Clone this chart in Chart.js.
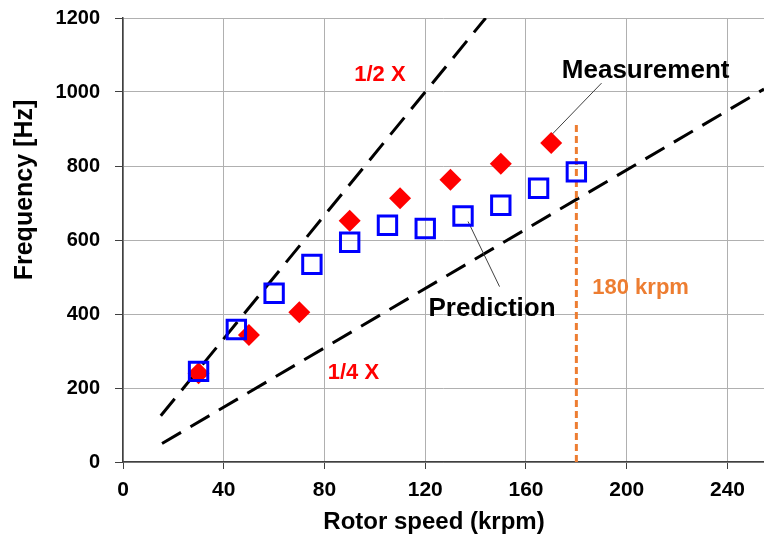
<!DOCTYPE html>
<html lang="en">
<head>
<meta charset="UTF-8">
<title>Frequency vs rotor speed</title>
<script src="https://cdn.jsdelivr.net/npm/chart.js"></script>
<style>
    body { margin: 0; background: #ffffff; }
</style>
</head>
<body>
<canvas id="myChart" width="764" height="542"></canvas>

<script>
    // valores
    const xTicks = [0, 40, 80, 120, 160, 200, 240];
    const yTicks = [0, 200, 400, 600, 800, 1000, 1200];

    const measSpeed = [30, 50, 70, 90, 110, 130, 150, 170];
    const measFreq = [240, 343, 405, 652, 713, 763, 806, 862];

    const predSpeed = [30, 45, 60, 75, 90, 105, 120, 135, 150, 165, 180];
    const predFreq = [245, 358, 456, 534, 594, 640, 631, 665, 694, 740, 784];

    const halfXSpeed = [15, 144];
    const halfXFreq = [125, 1200];
    const quarterXSpeed = [15.5, 254.5];
    const quarterXFreq = [50, 1008];

    const limitSpeed = [180, 180];
    const limitFreq = [0, 918];

    const measLeaderSpeed = [190, 169];
    const measLeaderFreq = [1024, 876];
    const predLeaderSpeed = [137, 149.5];
    const predLeaderFreq = [650, 474];

    const labels = [
        { text: '1/2 X', x: 102, y: 1046, color: '#ff0000', size: 22 },
        { text: '1/4 X', x: 91.5, y: 240, color: '#ff0000', size: 22 },
        { text: 'Measurement', x: 207.5, y: 1057, color: '#000000', size: 26 },
        { text: 'Prediction', x: 146.5, y: 413, color: '#000000', size: 26 },
        { text: '180 krpm', x: 205.5, y: 470, color: '#ed7d31', size: 22 }
    ];

    const FONT = '"Liberation Sans", Arial, sans-serif';

    function pts(xs, ys) {
        return xs.map((x, i) => ({ x: x, y: ys[i] }));
    }

    function linha(xs, ys, cor, largura, dash) {
        return {
            data: pts(xs, ys),
            showLine: true,
            borderColor: cor,
            borderWidth: largura,
            borderDash: dash,
            pointRadius: 0,
            fill: false
        };
    }

    // sem folga extra das legendas dos ticks
    function semFolga(s) {
        s.paddingTop = 0;
        s.paddingBottom = 0;
        s.paddingLeft = 0;
        s.paddingRight = 0;
    }

    // textos soltos e titulos dos eixos
    const textos = {
        id: 'textos',
        afterDatasetsDraw(chart) {
            const ctx = chart.ctx;
            const sx = chart.scales.x;
            const sy = chart.scales.y;
            ctx.save();
            ctx.textAlign = 'center';
            ctx.textBaseline = 'middle';
            labels.forEach(l => {
                ctx.font = 'bold ' + l.size + 'px ' + FONT;
                ctx.fillStyle = l.color;
                ctx.fillText(l.text, sx.getPixelForValue(l.x), sy.getPixelForValue(l.y));
            });

            ctx.fillStyle = '#000000';
            ctx.font = 'bold 24px ' + FONT;
            ctx.fillText('Rotor speed (krpm)', 434, 522);

            ctx.font = 'bold 25px ' + FONT;
            ctx.translate(25, 190);
            ctx.rotate(-Math.PI / 2);
            ctx.fillText('Frequency [Hz]', 0, 0);
            ctx.restore();
        }
    };

    const data = {
        datasets: [
            {
                data: pts(predSpeed, predFreq),
                pointStyle: 'rect',
                pointRadius: 13,
                pointBorderWidth: 3,
                pointBorderColor: '#0000ff',
                pointBackgroundColor: 'rgba(0,0,0,0)'
            },
            {
                data: pts(measSpeed, measFreq),
                pointStyle: 'rectRot',
                pointRadius: 11,
                pointBorderWidth: 0,
                pointBackgroundColor: '#ff0000'
            },
            linha(measLeaderSpeed, measLeaderFreq, '#404040', 1, []),
            linha(predLeaderSpeed, predLeaderFreq, '#404040', 1, []),
            linha(limitSpeed, limitFreq, '#ed7d31', 3, [7, 4]),
            linha(halfXSpeed, halfXFreq, '#000000', 3, [22, 11]),
            linha(quarterXSpeed, quarterXFreq, '#000000', 3, [22, 11])
        ]
    };

    const config = {
        type: 'scatter',
        data: data,
        plugins: [textos],
        options: {
            responsive: false,
            animation: false,
            layout: { autoPadding: false, padding: { top: 18, right: 0, left: 0, bottom: 0 } },
            plugins: {
                legend: { display: false },
                tooltip: { enabled: false }
            },
            scales: {
                x: {
                    type: 'linear',
                    min: 0,
                    max: 254.5,
                    afterBuildTicks: s => { s.ticks = xTicks.map(v => ({ value: v })); },
                    afterFit: s => { s.height = 80; semFolga(s); },
                    grid: { color: '#b0b0b0', lineWidth: 1, tickLength: 7, tickColor: '#404040' },
                    border: { color: '#404040', width: 1.5 },
                    ticks: {
                        padding: 9,
                        maxRotation: 0,
                        color: '#000000',
                        font: { family: FONT, size: 21, weight: 'bold' },
                        callback: v => String(v)
                    }
                },
                y: {
                    type: 'linear',
                    min: 0,
                    max: 1200,
                    afterBuildTicks: s => { s.ticks = yTicks.map(v => ({ value: v })); },
                    afterFit: s => { s.width = 123; semFolga(s); },
                    grid: { color: '#b0b0b0', lineWidth: 1, tickLength: 8, tickColor: '#404040' },
                    border: { color: '#404040', width: 1.5 },
                    ticks: {
                        padding: 15,
                        color: '#000000',
                        font: { family: FONT, size: 20, weight: 'bold' },
                        callback: v => String(v)
                    }
                }
            }
        }
    };

    const myChart = new Chart(document.getElementById('myChart'), config);
</script>
</body>
</html>
